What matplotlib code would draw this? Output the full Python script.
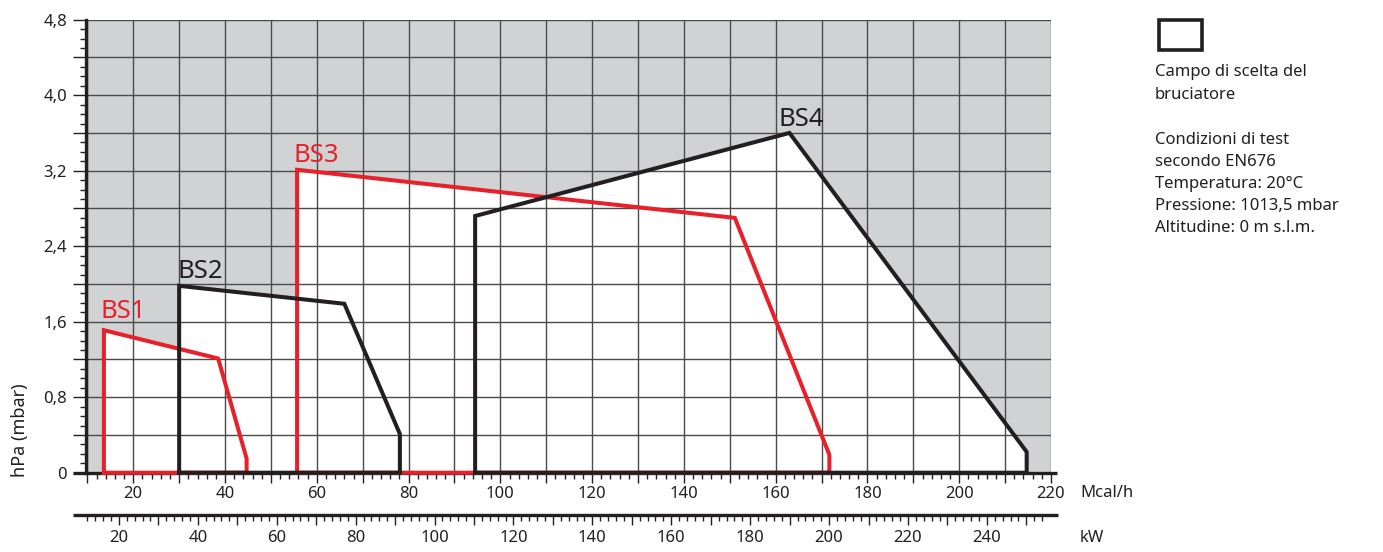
import matplotlib
matplotlib.use("Agg")
import matplotlib.pyplot as plt
import numpy as np
from matplotlib.patches import Polygon, Rectangle
from matplotlib.ticker import MultipleLocator, FuncFormatter

plt.rcParams['font.family'] = ['Noto Sans', 'DejaVu Sans']

# ---------------- data ----------------
MCAL_TO_KW = 1.163
x_min, x_max = 9.7, 220.0      # Mcal/h
y_min, y_max = 0.0, 4.8        # hPa (mbar)

bs1_x = [13.6, 13.6, 38.5, 44.7, 44.7]
bs1_y = [0.0, 1.51, 1.21, 0.15, 0.0]
bs2_x = [30.0, 30.0, 66.0, 78.1, 78.1]
bs2_y = [0.0, 1.98, 1.79, 0.41, 0.0]
bs3_x = [55.7, 55.7, 151.1, 171.7, 171.7]
bs3_y = [0.0, 3.21, 2.70, 0.19, 0.0]
bs4_x = [94.5, 94.5, 163.0, 214.7, 214.7]
bs4_y = [0.0, 2.72, 3.60, 0.22, 0.0]

burners = ["BS1", "BS2", "BS3", "BS4"]
label_pos = {"BS1": (12.9, 1.64), "BS2": (29.6, 2.06), "BS3": (54.9, 3.29), "BS4": (160.6, 3.67)}

mcal_labels = list(range(20, 221, 20))
kw_labels = list(range(20, 241, 20))
y_labels = [0, 0.8, 1.6, 2.4, 3.2, 4.0, 4.8]

legend_lines = ["Campo di scelta del", "bruciatore", "",
                "Condizioni di test", "secondo EN676", "Temperatura: 20°C",
                "Pressione: 1013,5 mbar", "Altitudine: 0 m s.l.m."]

RED = "#e8202a"
BLACK = "#231f20"
GREY_BG = "#d1d2d4"
GRID = "#4a4a4a"
FS = 12

W, H = 1383, 552
fig = plt.figure(figsize=(W / 100, H / 100), dpi=100)

def fx(px):
    return px / W

def fy(py):
    return 1 - py / H

ax_left, ax_right, ax_top, ax_bot = 86, 1051, 19.7, 472.7
ax = fig.add_axes([fx(ax_left), fy(ax_bot), fx(ax_right - ax_left), (ax_bot - ax_top) / H])
ax.set_xlim(x_min, x_max)
ax.set_ylim(y_min, y_max)
ax.set_facecolor(GREY_BG)

series = {"BS1": (bs1_x, bs1_y, RED), "BS2": (bs2_x, bs2_y, BLACK),
          "BS3": (bs3_x, bs3_y, RED), "BS4": (bs4_x, bs4_y, BLACK)}

# white fields
for name in burners:
    xs, ys, c = series[name]
    ax.add_patch(Polygon(np.column_stack([xs, ys]), closed=True, facecolor="white",
                         edgecolor="none", zorder=1))

# grid
for gx in np.arange(10, 221, 10):
    ax.axvline(gx, color=GRID, lw=1.0, zorder=2)
for gy in np.arange(0.4, 4.81, 0.4):
    ax.axhline(gy, color=GRID, lw=1.0, zorder=2)

# outlines (order: black over red)
for name in ["BS1", "BS3", "BS2", "BS4"]:
    xs, ys, c = series[name]
    ax.plot(xs + [xs[0]], ys + [ys[0]], color=c, lw=2.9, solid_joinstyle="miter",
            zorder=4, clip_on=False)

for name in burners:
    xs, ys, c = series[name]
    tx, ty = label_pos[name]
    ax.text(tx, ty, name, color=c, fontsize=18.5, ha="left", va="baseline", zorder=5)

# spines
for s in ["top", "right", "bottom"]:
    ax.spines[s].set_visible(False)
ax.spines["left"].set_linewidth(2.4)
ax.spines["left"].set_color(BLACK)
ax.spines["left"].set_zorder(6)
# bottom axis line extending beyond
ax.plot([-0.0135, 1.006], [0, 0], transform=ax.transAxes, color=BLACK, lw=2.4,
        clip_on=False, zorder=3.5, solid_capstyle="butt")

# y ticks
ax.yaxis.set_major_locator(MultipleLocator(0.4))
ax.yaxis.set_minor_locator(MultipleLocator(0.1))
def yfmt(v, pos):
    for lv in y_labels:
        if abs(v - lv) < 1e-6:
            return "0" if lv == 0 else f"{lv:.1f}".replace(".", ",")
    return ""
ax.yaxis.set_major_formatter(FuncFormatter(yfmt))
ax.tick_params(axis="y", which="major", length=9.5, width=1.0, color=BLACK,
               labelsize=FS, pad=4, labelcolor=BLACK)
ax.tick_params(axis="y", which="minor", length=4.5, width=1.0, color=BLACK)

# x ticks (Mcal/h)
ax.xaxis.set_major_locator(MultipleLocator(10))
ax.xaxis.set_minor_locator(MultipleLocator(2))
def xfmt(v, pos):
    iv = int(round(v))
    return str(iv) if iv in mcal_labels else ""
ax.xaxis.set_major_formatter(FuncFormatter(xfmt))
ax.tick_params(axis="x", which="major", length=7, width=1.0, color=BLACK,
               labelsize=FS, pad=2.5, labelcolor=BLACK)
ax.tick_params(axis="x", which="minor", length=4, width=1.0, color=BLACK)

# kW axis
kw_y = 515
axk = fig.add_axes([fx(ax_left - 1.5), fy(kw_y), fx(ax_right - ax_left), 0.0001])
axk.set_xlim(x_min * MCAL_TO_KW, x_max * MCAL_TO_KW)
axk.set_ylim(0, 1)
axk.patch.set_visible(False)
for s in ["top", "right", "left", "bottom"]:
    axk.spines[s].set_visible(False)
axk.plot([-0.0115, 1.0085], [0, 0], transform=axk.transAxes, color=BLACK, lw=2.4,
         clip_on=False, solid_capstyle="butt")
axk.set_yticks([])
axk.xaxis.set_major_locator(MultipleLocator(10))
axk.xaxis.set_minor_locator(MultipleLocator(2))
def kfmt(v, pos):
    iv = int(round(v))
    return str(iv) if iv in kw_labels else ""
axk.xaxis.set_major_formatter(FuncFormatter(kfmt))
axk.tick_params(axis="x", which="major", length=7, width=1.0, color=BLACK,
                labelsize=FS, pad=3.5, labelcolor=BLACK)
axk.tick_params(axis="x", which="minor", length=4.5, width=1.0, color=BLACK)

# axis titles
fig.text(fx(1080), fy(493), "Mcal/h", fontsize=FS, ha="left", va="center", color=BLACK)
fig.text(fx(1080), fy(538), "kW", fontsize=FS, ha="left", va="center", color=BLACK)
fig.text(fx(20), fy(430), "hPa (mbar)", fontsize=13, rotation=90, ha="center",
         va="center", color=BLACK)

# legend
fig.patches.append(Rectangle((fx(1158.5), fy(49.5)), fx(43), (49.5 - 20.5) / H,
                             transform=fig.transFigure, facecolor="white",
                             edgecolor=BLACK, lw=2.6))
baselines = [76, 99, 121, 144, 166, 188, 210, 232]
for txt, by in zip(legend_lines, baselines):
    if txt:
        fig.text(fx(1155), fy(by), txt, fontsize=FS, ha="left", va="baseline", color=BLACK)

fig.savefig("out.png", dpi=100)
